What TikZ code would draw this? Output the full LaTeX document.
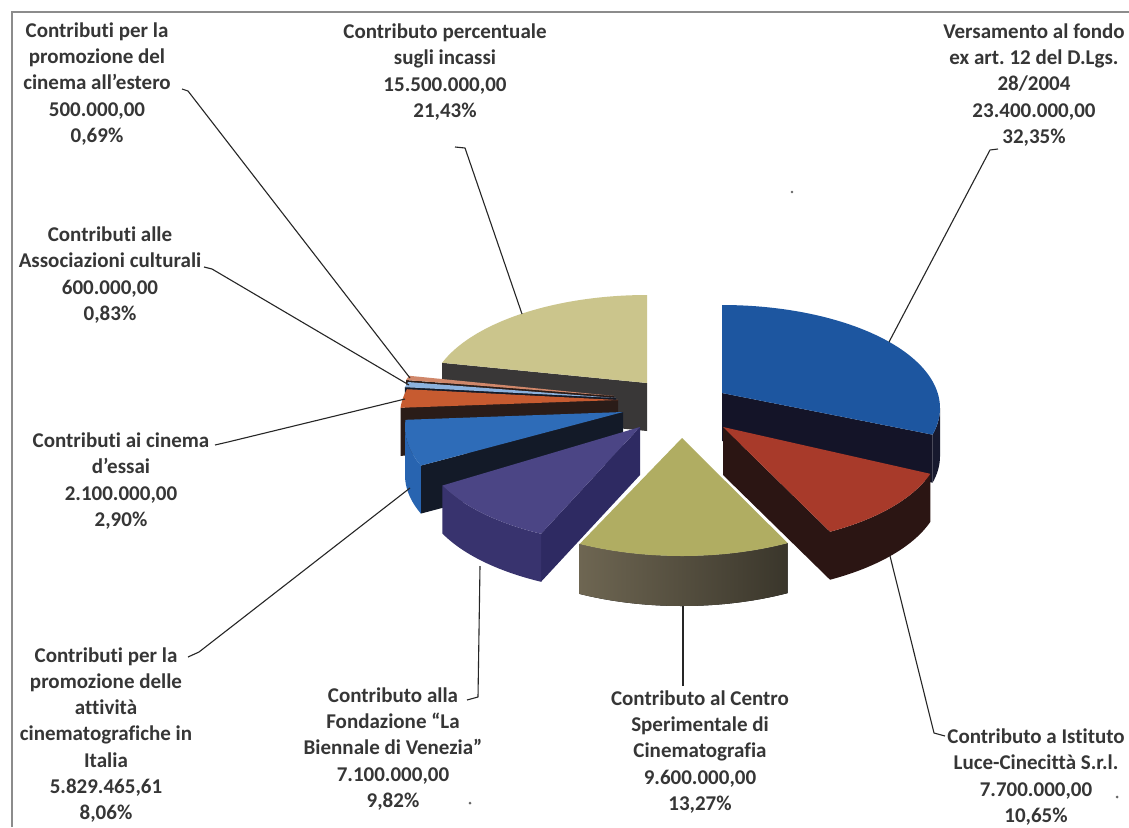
\documentclass[tikz,border=0pt]{standalone}
\usepackage{fontspec}
\setmainfont{Carlito}[Ligatures=NoCommon]
\usetikzlibrary{calc}
\frenchspacing
\definecolor{txt}{HTML}{363636}
\definecolor{khakitop}{HTML}{CBC58C}
\definecolor{khakicut}{HTML}{393737}
\definecolor{blueAtop}{HTML}{1D56A0}
\definecolor{blueAcut}{HTML}{141428}
\definecolor{blueAwall}{HTML}{17192E}
\definecolor{redtop}{HTML}{A83A2A}
\definecolor{redcut}{HTML}{2B1513}
\definecolor{olivetop}{HTML}{B0AD62}
\definecolor{olivewallL}{HTML}{6E6652}
\definecolor{olivewallR}{HTML}{3A362B}
\definecolor{purptop}{HTML}{4B4585}
\definecolor{purpwall}{HTML}{38336E}
\definecolor{purpcut}{HTML}{2E2A62}
\definecolor{blueBtop}{HTML}{2E6CB8}
\definecolor{blueBcut}{HTML}{131A28}
\definecolor{blueBwall}{HTML}{2864B0}
\definecolor{orangetop}{HTML}{C75B30}
\definecolor{orangecut}{HTML}{2A1C18}
\definecolor{assoctop}{HTML}{8CB2DE}
\definecolor{esterotop}{HTML}{D0876A}
\def\RX{218}
\def\RY{103}
% top face: apex x, apex y, centre x, centre y, t1, t2, style
\newcommand{\PieTop}[7]{\fill[#7] (#1,#2) -- plot[domain=#5:#6,samples=60] ({#3+\RX*cos(\x)},{#4-\RY*sin(\x)}) -- cycle;}
% outer wall: centre x, centre y, t1, t2, height, style
\newcommand{\PieWall}[6]{\fill[#6] plot[domain=#3:#4,samples=60] ({#1+\RX*cos(\x)},{#2-\RY*sin(\x)}) -- plot[domain=#4:#3,samples=60] ({#1+\RX*cos(\x)},{#2-\RY*sin(\x)+#5}) -- cycle;}
% cut face: apex x, apex y, centre x, centre y, t, height, style
\newcommand{\PieCut}[7]{\fill[#7] (#1,#2) -- ({#3+\RX*cos(#5)},{#4-\RY*sin(#5)}) -- ({#3+\RX*cos(#5)},{#4-\RY*sin(#5)+#6}) -- (#1,{#2+#6}) -- cycle;}
\begin{document}
\begin{tikzpicture}[x=1pt,y=-1pt,
  lbl/.style={font=\fontsize{21}{26.3}\selectfont\bfseries, text=txt, align=center, inner sep=0pt},
  leader/.style={draw=black!85, line width=1.1pt, line join=round},
  frame/.style={draw=black!45, line width=1.2pt}]
\useasboundingbox (0,0) rectangle (1129,827);
\fill[white] (0,0) rectangle (1129,827);
\draw[frame] (12,827) -- (12,12) -- (1129,12);

% ---- pie slices, back to front ----
% Contributo percentuale (khaki)
\PieCut{647}{383}{647}{398}{160}{48}{khakicut}
\PieTop{647}{383}{647}{398}{90}{160}{khakitop}
% Versamento (blue)
\PieCut{722}{393}{722}{408}{345}{48}{blueAcut}
\PieWall{722}{408}{345}{360}{48}{blueAwall}
\PieTop{722}{393}{722}{408}{345}{450}{blueAtop}
% estero (tiny)
\PieCut{614}{396}{614}{411}{162.5}{48}{orangecut}
\PieTop{614}{396}{614}{411}{160}{162.5}{esterotop}
% associazioni (tiny)
\PieCut{616}{398}{616}{413}{165.5}{48}{blueBcut}
\PieTop{616}{398}{616}{413}{162.5}{165.5}{assoctop}
% essai (orange)
\PieCut{618}{400}{618}{415}{176}{48}{orangecut}
\PieTop{618}{400}{618}{415}{165.5}{176}{orangetop}
% promozione Italia (blue 2)
\PieCut{623}{412}{623}{427}{202}{48}{blueBcut}
\PieWall{623}{427}{180}{202}{48}{blueBwall}
\PieTop{623}{412}{623}{427}{176}{202}{blueBtop}
% Biennale (purple)
\PieCut{640}{427}{640}{442}{243}{48}{purpcut}
\PieWall{640}{442}{205}{243}{48}{purpwall}
\PieTop{640}{427}{640}{442}{205}{243}{purptop}
% Luce (red)
\PieCut{723}{427}{723}{442}{299.4}{48}{redcut}
\PieWall{723}{442}{299.4}{342}{48}{redcut}
\PieTop{723}{427}{723}{442}{299.4}{342}{redtop}
% Centro Sperimentale (olive)
\PieWall{682}{453}{242}{299}{50}{left color=olivewallL, right color=olivewallR}
\PieTop{682}{438}{682}{453}{242}{299}{olivetop}

% ---- labels ----
\node[lbl] (lEstero) at (97,84) {Contributi per la\\promozione del\\cinema all’estero\\500.000,00\\0,69\%};
\node[lbl] (lAssoc) at (110,275) {Contributi alle\\Associazioni culturali\\600.000,00\\0,83\%};
\node[lbl] (lEssai) at (121,481) {Contributi ai cinema\\d’essai\\2.100.000,00\\2,90\%};
\node[lbl] (lPromo) at (106,735) {Contributi per la\\promozione delle\\attività\\cinematografiche in\\Italia\\5.829.465,61\\8,06\%};
\node[lbl] (lBiennale) at (393,749) {Contributo alla\\Fondazione “La\\Biennale di Venezia”\\7.100.000,00\\9,82\%};
\node[lbl] (lCentro) at (700,752) {Contributo al Centro\\Sperimentale di\\Cinematografia\\9.600.000,00\\13,27\%};
\node[lbl] (lLuce) at (1036,777) {Contributo a Istituto\\Luce-Cinecittà S.r.l.\\7.700.000,00\\10,65\%};
\node[lbl] (lPerc) at (445,72) {Contributo percentuale\\sugli incassi\\15.500.000,00\\21,43\%};
\node[lbl] (lVers) at (1034,85) {Versamento al fondo\\ex art. 12 del D.Lgs.\\28/2004\\23.400.000,00\\32,35\%};

% ---- leader anchor points ----
\coordinate (tEstero) at (182,89);   \coordinate (kEstero) at (188,91);   \coordinate (pEstero) at (410,378);
\coordinate (tAssoc) at (204,267);   \coordinate (kAssoc) at (212,269);   \coordinate (pAssoc) at (409,385);
\coordinate (tEssai) at (215,445);   \coordinate (kEssai) at (228,442);   \coordinate (pEssai) at (405,399);
\coordinate (tPromo) at (188,657);   \coordinate (kPromo) at (199,652);   \coordinate (pPromo) at (410,488);
\coordinate (tBien) at (467,700);    \coordinate (kBien) at (478,697);    \coordinate (pBien) at (480,566);
\coordinate (tCentro) at (683,686);  \coordinate (pCentro) at (683,606);
\coordinate (tLuce) at (945,736);    \coordinate (kLuce) at (934,733);    \coordinate (pLuce) at (890,556);
\coordinate (tPerc) at (455,147);    \coordinate (kPerc) at (465,148);    \coordinate (pPerc) at (522,314);
\coordinate (tVers) at (998,149);    \coordinate (kVers) at (990,150);    \coordinate (pVers) at (889,342);

\draw[leader] (tEstero) -- (kEstero) -- (pEstero);
\draw[leader] (tAssoc) -- (kAssoc) -- (pAssoc);
\draw[leader] (tEssai) -- (kEssai) -- (pEssai);
\draw[leader] (tPromo) -- (kPromo) -- (pPromo);
\draw[leader] (tBien) -- (kBien) -- (pBien);
\draw[leader] (tCentro) -- (pCentro);
\draw[leader] (tLuce) -- (kLuce) -- (pLuce);
\draw[leader] (tPerc) -- (kPerc) -- (pPerc);
\draw[leader] (tVers) -- (kVers) -- (pVers);

% scan specks
\fill[black!60] (470,803) circle (1.5) (1117,797) circle (1.5) (792,192) circle (1.3);
\end{tikzpicture}
\end{document}
